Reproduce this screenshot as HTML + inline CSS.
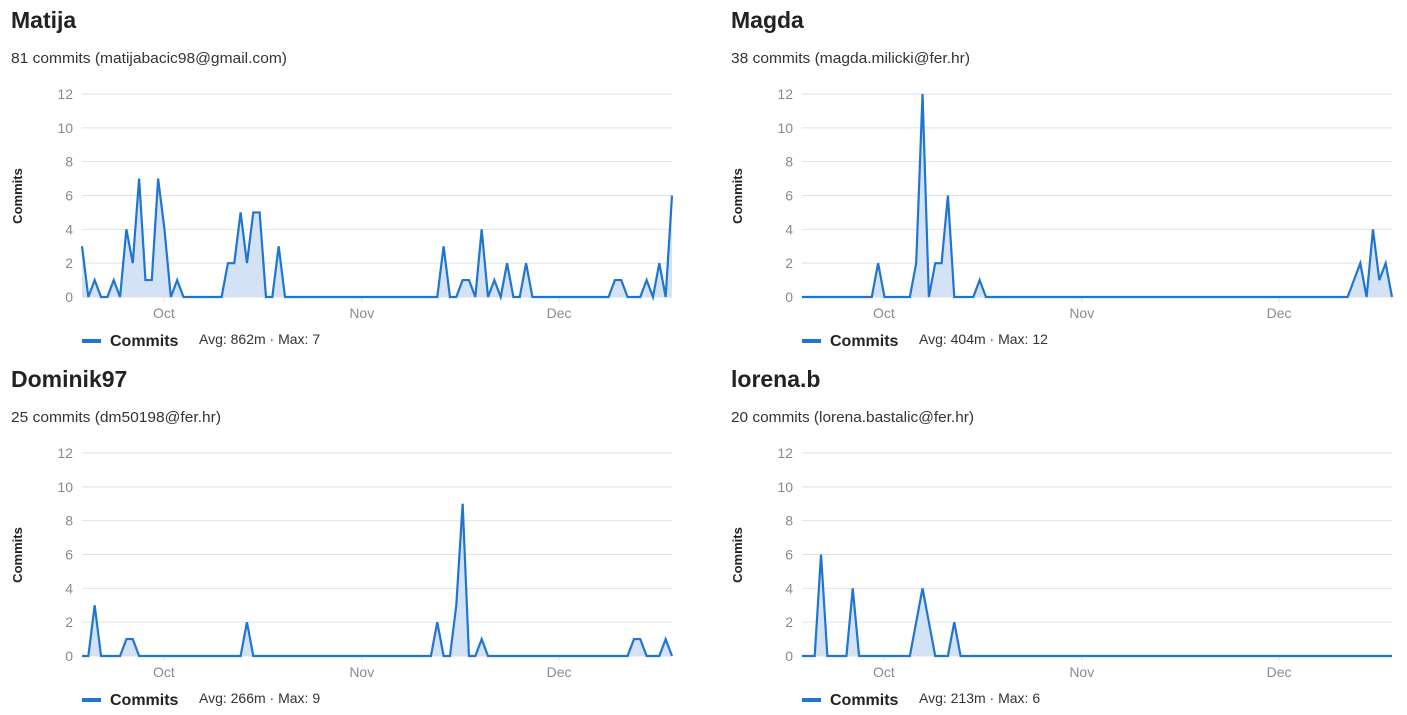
<!DOCTYPE html>
<html><head><meta charset="utf-8"><style>
body{margin:0;background:#fff;font-family:"Liberation Sans",sans-serif;}
svg{display:block}
</style></head><body>
<svg id="s" width="1407" height="715" xmlns="http://www.w3.org/2000/svg"></svg>
<script>
const names=["Matija","Magda","Dominik97","lorena.b"];
const subtitles=["81 commits (matijabacic98@gmail.com)","38 commits (magda.milicki@fer.hr)","25 commits (dm50198@fer.hr)","20 commits (lorena.bastalic@fer.hr)"];
const subWidths=[276,239,210,243];
const legendStats=["Avg: 862m · Max: 7","Avg: 404m · Max: 12","Avg: 266m · Max: 9","Avg: 213m · Max: 6"];
const yTicks=[0,2,4,6,8,10,12];
const monthLabels=["Oct","Nov","Dec"];
const monthIdx=[12.9,44.1,75.2];
const mat=[3,0,1,0,0,1,0,4,2,7,1,1,7,4,0,1,0,0,0,0,0,0,0,2,2,5,2,5,5,0,0,3,0,0,0,0,0,0,0,0,0,0,0,0,0,0,0,0,0,0,0,0,0,0,0,0,0,3,0,0,1,1,0,4,0,1,0,2,0,0,2,0,0,0,0,0,0,0,0,0,0,0,0,0,1,1,0,0,0,1,0,2,0,6];
const magda=[0,0,0,0,0,0,0,0,0,0,0,0,2,0,0,0,0,0,2,12,0,2,2,6,0,0,0,0,1,0,0,0,0,0,0,0,0,0,0,0,0,0,0,0,0,0,0,0,0,0,0,0,0,0,0,0,0,0,0,0,0,0,0,0,0,0,0,0,0,0,0,0,0,0,0,0,0,0,0,0,0,0,0,0,0,0,0,1,2,0,4,1,2,0];
const dominik=[0,0,3,0,0,0,0,1,1,0,0,0,0,0,0,0,0,0,0,0,0,0,0,0,0,0,2,0,0,0,0,0,0,0,0,0,0,0,0,0,0,0,0,0,0,0,0,0,0,0,0,0,0,0,0,0,2,0,0,3,9,0,0,1,0,0,0,0,0,0,0,0,0,0,0,0,0,0,0,0,0,0,0,0,0,0,0,1,1,0,0,0,1,0];
const lorena=[0,0,0,6,0,0,0,0,4,0,0,0,0,0,0,0,0,0,2,4,2,0,0,0,2,0,0,0,0,0,0,0,0,0,0,0,0,0,0,0,0,0,0,0,0,0,0,0,0,0,0,0,0,0,0,0,0,0,0,0,0,0,0,0,0,0,0,0,0,0,0,0,0,0,0,0,0,0,0,0,0,0,0,0,0,0,0,0,0,0,0,0,0,0];
const series=[mat,magda,dominik,lorena];
const NS="http://www.w3.org/2000/svg";
const svg=document.getElementById('s');
function mk(tag,attrs,parent,text){const e=document.createElementNS(NS,tag);for(const k in attrs)e.setAttribute(k,attrs[k]);if(text!==undefined)e.textContent=text;parent.appendChild(e);return e;}
series.forEach((data,c)=>{
  const ox=(c%2)*720, oy=Math.floor(c/2)*359;
  const g=mk('g',{},svg);
  
  
  const x0=ox+82,x1=ox+672,yb=oy+297,yt=oy+94;
  const n=data.length;
  const X=i=>x0+(x1-x0)*i/(n-1);
  const Y=v=>yb-(yb-yt)*v/12;
  const t=mk('text',{x:ox+11,y:oy+28,'font-size':23,'font-weight':'bold',fill:'#222'},g,names[c]);
  
  
  const st=mk('text',{x:ox+11,y:oy+63,'font-size':15,fill:'#333','textLength':subWidths[c],'lengthAdjust':'spacingAndGlyphs'},g,subtitles[c]);
  
  
  yTicks.forEach(v=>{
    const l=mk('line',{x1:x0,x2:x1,y1:Y(v),y2:Y(v),stroke:'#e2e2e2','stroke-width':1},g);
    
    
    const tl=mk('text',{x:ox+73,y:Y(v)+5,'font-size':14,fill:'#8a8a8a','text-anchor':'end'},g,String(v));
    
    
  });
  const yt2=mk('text',{x:ox+22,y:oy+196,'font-size':13,'font-weight':'bold',fill:'#222','text-anchor':'middle',transform:`rotate(-90 ${ox+22} ${oy+196})`},g,'Commits');
  
  
  monthLabels.forEach((m,k)=>{
    const mx=X(monthIdx[k]);
    const tk=mk('line',{x1:mx,x2:mx,y1:yb,y2:yb+5,stroke:'#ddd'},g);
    
    
    const ml=mk('text',{x:mx,y:oy+318,'font-size':14,fill:'#8a8a8a','text-anchor':'middle'},g,m);
    
    
  });
  let pts=data.map((v,i)=>X(i).toFixed(2)+','+Y(v).toFixed(2));
  const area=mk('polygon',{points:`${x0},${yb} ${pts.join(' ')} ${x1},${yb}`,fill:'#d3e3f5'},g);
  
  
  const line=mk('polyline',{points:pts.join(' '),fill:'none',stroke:'#1f75d0','stroke-width':2.2,'stroke-linejoin':'miter'},g);
  
  
  const lg=mk('line',{x1:ox+82,x2:ox+101,y1:oy+341,y2:oy+341,stroke:'#1f75d0','stroke-width':4},g);
  
  
  const lt=mk('text',{x:ox+110,y:oy+346,'font-size':16,'font-weight':'bold',fill:'#222'},g,'Commits');
  
  
  const ls=mk('text',{x:ox+199,y:oy+344,'font-size':14,fill:'#333'},g,legendStats[c]);
  
  
});
</script>
</body></html>
